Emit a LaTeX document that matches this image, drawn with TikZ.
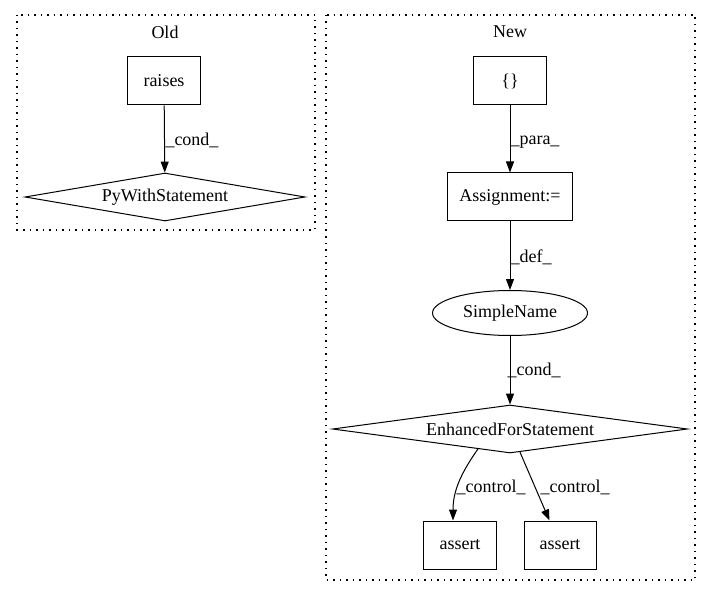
\documentclass[tikz,border=0pt]{standalone}
\usepackage{fontspec}
\setmainfont{Liberation Serif}
\usetikzlibrary{arrows.meta}
\usetikzlibrary{positioning}
\usetikzlibrary{shapes}
\begin{document}
\begin{tikzpicture}[x=1pt,y=-1pt,font=\fontsize{18pt}{20pt}\selectfont,
	every node/.style={inner sep=0pt},
	box/.style={rectangle,draw,line width=1pt,minimum height=48pt},
	cond/.style={diamond,draw,line width=1pt,minimum height=48pt},
	oval/.style={ellipse,draw,line width=1pt,minimum width=155pt,minimum height=45pt},
	link/.style={-{Triangle[length=11pt,width=8pt]},line width=1pt},
	cluster/.style={draw,line width=1.2pt,dash pattern=on 1.5pt off 5pt},
	lab/.style={font=\fontsize{18pt}{20pt}\selectfont}]
	\useasboundingbox (0,0) rectangle (712,596);
	% Old
	\draw[cluster] (17,15) rectangle (315,230);
	\node (OldTitle) at (165,32) {Old};
	\node[box,minimum width=73pt] (Raises) at (164,81) {raises};
	\node[cond,minimum width=280pt,aspect=5.8] (PyWith) at (165,197) {PyWithStatement};
	\draw[link] (Raises) -- (PyWith);
	\node[lab] (CondOld) at (192,140) {\_cond\_};
	% New
	\draw[cluster] (326,15) rectangle (695,580);
	\node (NewTitle) at (510,32) {New};
	\node[box,minimum width=73pt] (Braces) at (510,81) {\{\}};
	\node[box,minimum width=125pt] (Assign) at (510,197) {Assignment:=};
	\node[oval] (Simple) at (510,313) {SimpleName};
	\node[cond,minimum width=355pt,aspect=7.4] (EnhFor) at (510,429) {EnhancedForStatement};
	\node[box,minimum width=73pt] (AssertA) at (460,545) {assert};
	\node[box,minimum width=72pt] (AssertB) at (560,545) {assert};
	\draw[link] (Braces) -- (Assign);
	\draw[link] (Assign) -- (Simple);
	\draw[link] (Simple) -- (EnhFor);
	\draw[link] (EnhFor.-148) to[out=-125,in=90] ([xshift=-7pt]AssertA.north);
	\draw[link] (EnhFor) -- (AssertB);
	\node[lab] (Para) at (535,142) {\_para\_};
	\node[lab] (Def) at (531,257) {\_def\_};
	\node[lab] (CondNew) at (534,370) {\_cond\_};
	\node[lab] (CtrlA) at (491,487) {\_control\_};
	\node[lab] (CtrlB) at (575,487) {\_control\_};
\end{tikzpicture}
\end{document}
